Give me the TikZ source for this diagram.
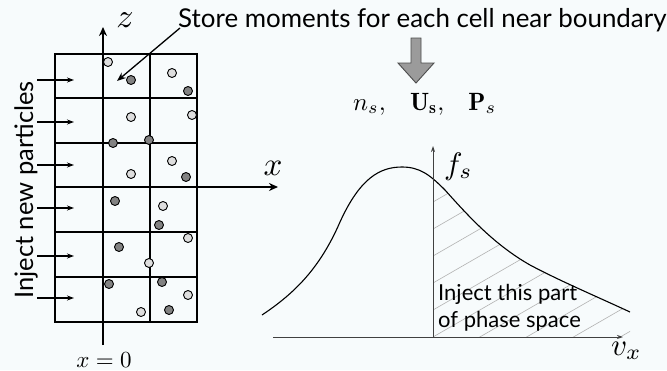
\documentclass[tikz,border=0pt]{standalone}
\usepackage{graphicx}
\usepackage{fontspec}
\setsansfont{Lato}
\usetikzlibrary{arrows.meta}
\definecolor{bgc}{RGB}{247,251,252}
\definecolor{lightdot}{RGB}{222,222,222}
\definecolor{darkdot}{RGB}{130,130,130}
\definecolor{blockgray}{RGB}{155,155,155}
\tikzset{
  gridthin/.style={line width=1.3pt},
  gridthick/.style={line width=2pt},
  mainaxis/.style={line width=2.8pt,-{Stealth[length=9pt,width=8pt]}},
  injarrow/.style={line width=1.2pt,-{Stealth[length=7pt,width=5pt]}},
  litedot/.style={draw=black,line width=0.9pt,fill=lightdot},
  darkdotst/.style={draw=black,line width=0.9pt,fill=darkdot},
  graxis/.style={line width=0.9pt,draw=black!75,-{Stealth[length=6pt,width=4pt]}},
  hatchline/.style={line width=0.6pt,draw=black!30},
  sftext/.style={inner sep=0pt,font=\sffamily},
  mathlbl/.style={inner sep=0pt},
}
\begin{document}
\begin{tikzpicture}[x=1pt,y=-1pt]
\useasboundingbox (0,0) rectangle (667,370);
\fill[bgc] (0,0) rectangle (667,370);

% grid
\draw[gridthin] (55,54) rectangle (197,322);
\foreach \yy in {143,232} \draw[gridthin] (55,\yy) -- (197,\yy);
\foreach \yy in {98,277} \draw[gridthick] (55,\yy) -- (197,\yy);
\draw[gridthin] (150,54) -- (150,322);

% axes
\coordinate (zbot) at (103,345);
\coordinate (ztop) at (103,27);
\coordinate (xstart) at (55,187);
\coordinate (xend) at (278,187);
\draw[mainaxis] (xstart) -- (xend);
\draw[mainaxis] (zbot) -- (ztop);
\node[mathlbl,anchor=base] (zlbl) at (125,27) {\scalebox{3.4}{$z$}};
\node[mathlbl,anchor=base] (xlbl) at (273,175) {\scalebox{3.3}{$x$}};
\node[mathlbl,anchor=base] (x0lbl) at (104,367) {\scalebox{2.3}{$x=0$}};

% injection arrows
\foreach \yy [count=\i] in {80,122,165,208,256,298} {
  \coordinate (ia\i) at (37,\yy);
  \coordinate (ib\i) at (74,\yy);
  \draw[injarrow] (ia\i) -- (ib\i);
}
\node[sftext,rotate=90,anchor=base] (inject) at (33,190) {\fontsize{25.5}{28}\selectfont Inject new particles};

% dots
\foreach \px/\py in {108/62,172/73,131/117,192/115,172/161,131/174,163/206,188/238,149/263,188/295,141/312}
  \draw[litedot] (\px,\py) circle (4.5);
\foreach \px/\py in {131/80,188/91,113/143,149/140,186/177,115/201,159/225,119/247,109/284,162/282,169/310}
  \draw[darkdotst] (\px,\py) circle (4.5);

% store text and arrow
\node[sftext,anchor=base west] (store) at (178,27) {\fontsize{25.9}{30}\selectfont Store moments for each cell near boundary};
\coordinate (sa) at (180,28);
\coordinate (sb) at (117,81);
\draw[line width=1.3pt,-{Stealth[length=9pt,width=7pt]}] (sa) -- (sb);

% block arrow
\draw[fill=blockgray,draw=black!70,line width=0.9pt] (411,38) -- (421,38) -- (421,63) -- (434,63) -- (416,83) -- (398,63) -- (411,63) -- cycle;
\node[mathlbl,anchor=base west] (moments) at (353,110) {\scalebox{2.5}{$n_s,\hspace{0.8em}\mathbf{U_s},\hspace{0.8em}\mathbf{P}_s$}};

% graph
\def\curvepath{(262,315) .. controls (295,293) and (320,268) .. (340,222)
  .. controls (360,178) and (380,167) .. (402,167)
  .. controls (420,167) and (430,175) .. (445,190)
  .. controls (470,218) and (495,245) .. (530,265)
  .. controls (560,281) and (600,298) .. (630,312)}
\begin{scope}
  \clip (433,0) rectangle (667,337);
  \clip (262,337) -- \curvepath -- (630,337) -- cycle;
  \foreach \k in {-12,...,8}
    \draw[hatchline] (433,337-27*\k) -- (700,337-27*\k-154);
\end{scope}
\draw[line width=1.1pt] \curvepath;
\coordinate (vorig) at (433,337);
\coordinate (vleft) at (273,337);
\coordinate (vright) at (623,337);
\coordinate (ftop) at (433,146);
\draw[line width=0.9pt,draw=black!75] (vleft) -- (vorig);
\draw[graxis] (vorig) -- (vright);
\draw[graxis] (vorig) -- (ftop);
\node[mathlbl,anchor=base west] (fs) at (444,174) {\scalebox{3.1}{$f_s$}};
\node[mathlbl,anchor=base west] (vx) at (611,355) {\scalebox{3.1}{$v_x$}};
\node[sftext,anchor=base west] (inj1) at (438,300) {\fontsize{22}{26}\selectfont Inject this part};
\node[sftext,anchor=base west] (inj2) at (438,327) {\fontsize{22}{26}\selectfont of phase space};
\end{tikzpicture}
\end{document}
